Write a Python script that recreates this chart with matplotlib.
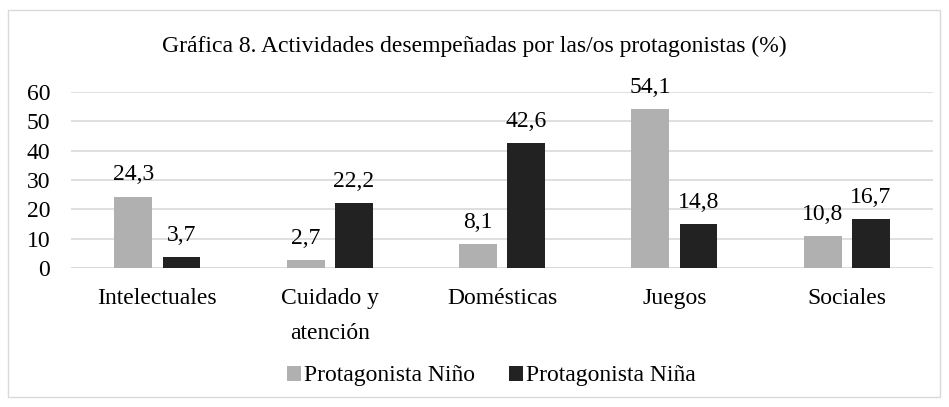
import numpy as np
import matplotlib.pyplot as plt
from matplotlib.patches import Rectangle

# datos
categorias = ["Intelectuales", "Cuidado y\natención", "Domésticas", "Juegos", "Sociales"]
nino = [24.3, 2.7, 8.1, 54.1, 10.8]
nina = [3.7, 22.2, 42.6, 14.8, 16.7]
series = ["Protagonista Niño", "Protagonista Niña"]
titulo = "Gráfica 8. Actividades desempeñadas por las/os protagonistas (%)"

plt.rcParams['font.family'] = ['Liberation Serif', 'DejaVu Serif']

fig = plt.figure(figsize=(9.49, 4.07), dpi=100)
ax = fig.add_axes([0.075, 0.342, 0.908, 0.432])

x = np.arange(len(categorias))
w = 0.22
off = 0.14
b1 = ax.bar(x - off, nino, w, color="#B0B0B0", label=series[0], zorder=3)
b2 = ax.bar(x + off, nina, w, color="#222222", label=series[1], zorder=3)

for bars in (b1, b2):
    for r in bars:
        v = r.get_height()
        ax.annotate(f"{v:.1f}".replace(".", ","), (r.get_x() + r.get_width() / 2, v),
                    xytext=(0, 8), textcoords="offset points",
                    ha="center", va="bottom", fontsize=17)

ax.set_xlim(-0.5, len(categorias) - 0.5)
ax.set_ylim(0, 60)
ax.set_yticks(range(0, 61, 10))
ax.yaxis.grid(True, color="#D9D9D9", linewidth=1.2, zorder=0)
for s in ax.spines.values():
    s.set_visible(False)
ax.tick_params(axis="both", length=0, labelsize=17, colors="black")
ax.tick_params(axis="y", pad=15)
ax.tick_params(axis="x", pad=14.5)
ax.set_xticks(x)
ax.set_xticklabels(categorias, linespacing=1.85)
ax.axhline(0, color="#D9D9D9", linewidth=1.2, zorder=1)

fig.text(0.5, 1 - 46 / 407, titulo, ha="center", va="center", fontsize=17)

fig.legend(handles=[b1, b2], labels=series, loc="center", bbox_to_anchor=(491 / 949, 1 - 376 / 407),
           ncol=2, frameon=False, fontsize=17, handlelength=0.6, handleheight=0.6,
           handletextpad=0.12, columnspacing=1.45)

fig.patches.append(Rectangle((8 / 949, 10 / 407), 932 / 949, 387 / 407, transform=fig.transFigure,
                             fill=False, edgecolor="#D9D9D9", linewidth=1))

plt.savefig("out.png", dpi=100)
